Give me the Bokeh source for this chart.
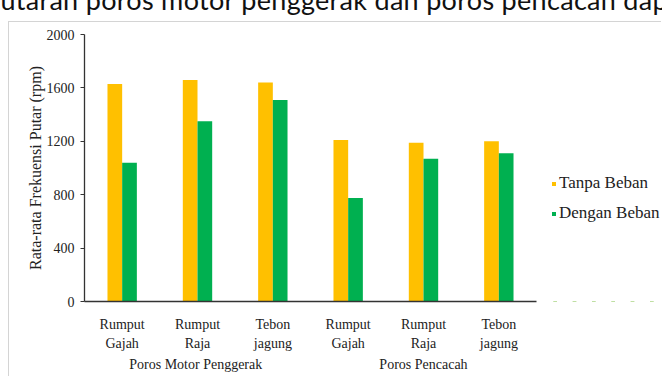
from bokeh.plotting import figure
from bokeh.models import (ColumnDataSource, FactorRange, Range1d, FixedTicker, Legend, LegendItem,
                          CategoricalAxis, Div)
from bokeh.layouts import column, row
from bokeh.transform import dodge
from bokeh.embed import file_html
from bokeh.resources import INLINE

# ---- data ----
groups = ["Poros Motor  Penggerak", "Poros Pencacah"]
categories = ["Rumput\nGajah", "Rumput\nRaja", "Tebon\njagung"]
tanpa_beban = [1630, 1660, 1640, 1210, 1190, 1200]
dengan_beban = [1040, 1350, 1510, 775, 1070, 1110]
y_ticks = [0, 400, 800, 1200, 1600, 2000]
series_names = ["Tanpa Beban", "Dengan Beban"]
top_text = "putaran poros motor penggerak dan poros pencacah dapat"

# unique factor per bar pair (zero-width marker keeps repeated names distinct)
factors = [c + "\u200b" * gi for gi, g in enumerate(groups) for c in categories]
source = ColumnDataSource(data=dict(x=factors, tanpa=tanpa_beban, dengan=dengan_beban))

SERIF = "Liberation Serif"
YELLOW = "#FFC000"
GREEN = "#00B050"
INK = "#222222"
AX = "#333333"

x_range = FactorRange(*factors, factor_padding=0, range_padding=0)
p = figure(width=536, height=354, x_range=x_range, y_range=Range1d(0, 2000),
           output_backend="svg", toolbar_location=None,
           min_border_left=75, min_border_right=9, min_border_top=12, min_border_bottom=75)
p.extra_x_ranges = {"grp": FactorRange(*groups, factor_padding=0, range_padding=0)}
p.outline_line_color = None
p.xgrid.grid_line_color = None
p.ygrid.grid_line_color = None

p.vbar(x=dodge("x", -0.0975, range=p.x_range), top="tanpa", width=0.195,
       source=source, fill_color=YELLOW, line_color=None)
p.vbar(x=dodge("x", 0.0975, range=p.x_range), top="dengan", width=0.195,
       source=source, fill_color=GREEN, line_color=None)

ya = p.yaxis[0]
ya.ticker = FixedTicker(ticks=y_ticks)
ya.minor_tick_line_color = None
ya.major_tick_in = 0
ya.major_tick_out = 4
ya.axis_line_color = AX
ya.major_tick_line_color = AX
ya.axis_line_width = 1.3
ya.major_label_text_font = SERIF
ya.major_label_text_font_size = "14px"
ya.major_label_text_color = INK
ya.major_label_standoff = 6
ya.axis_label = "Rata-rata Frekuensi Putar (rpm)"
ya.axis_label_text_font = SERIF
ya.axis_label_text_font_size = "16px"
ya.axis_label_text_font_style = "normal"
ya.axis_label_text_color = INK
ya.axis_label_standoff = 0

xa = p.xaxis[0]
xa.axis_line_color = AX
xa.axis_line_width = 1.3
xa.major_tick_line_color = None
xa.major_tick_in = 0
xa.major_tick_out = 0
xa.major_label_text_font = SERIF
xa.major_label_text_font_size = "14px"
xa.major_label_text_line_height = 1.3
xa.major_label_text_color = INK
xa.major_label_standoff = 15

ga = CategoricalAxis(x_range_name="grp", axis_line_color=None, major_tick_line_color=None,
                     minor_tick_line_color=None, major_tick_in=0, major_tick_out=0,
                     major_label_standoff=2, major_label_text_font=SERIF,
                     major_label_text_font_size="14px", major_label_text_color=INK)
p.add_layout(ga, "below")

# legend panel: its bars map well below the canvas, so only the legend shows
lf = figure(width=116, height=354, x_range=x_range, y_range=Range1d(10000, 12000),
            x_axis_location=None, y_axis_location=None,
            output_backend="svg", toolbar_location=None, min_border=0)
lf.outline_line_color = None
lf.xgrid.grid_line_color = None
lf.ygrid.grid_line_color = None
k1 = lf.vbar(x="x", top="tanpa", width=0.195, source=source,
             fill_color=YELLOW, line_color=None)
k2 = lf.vbar(x="x", top="dengan", width=0.195, source=source,
             fill_color=GREEN, line_color=None)
legend = Legend(items=[LegendItem(label=series_names[0], renderers=[k1]),
                       LegendItem(label=series_names[1], renderers=[k2])],
                location=(6, 78), orientation="vertical",
                glyph_width=5, glyph_height=5, label_standoff=3,
                label_text_font=SERIF, label_text_font_size="17px", label_text_color=INK,
                label_height=16, spacing=10, padding=0, margin=0,
                border_line_color=None, background_fill_alpha=0)
lf.add_layout(legend)

top = Div(text=('<div style="position:relative;left:-15px;top:-14px;white-space:nowrap;'
                'font-family:Lato;font-size:27px;line-height:27px;letter-spacing:0.3px;color:#111;">'
                + top_text + '</div>'),
          width=662, height=21, margin=(0, 0, 0, 0), styles={"overflow": "hidden"})

body = row(p, lf, margin=(0, 0, 0, 8),
           styles={"border-top": "1.5px solid #d4d4d4", "border-left": "1.5px solid #d4d4d4"})
layout = column(top, body, margin=(0, 0, 0, 0), spacing=0)

open("out.html", "w").write(file_html(layout, INLINE))
